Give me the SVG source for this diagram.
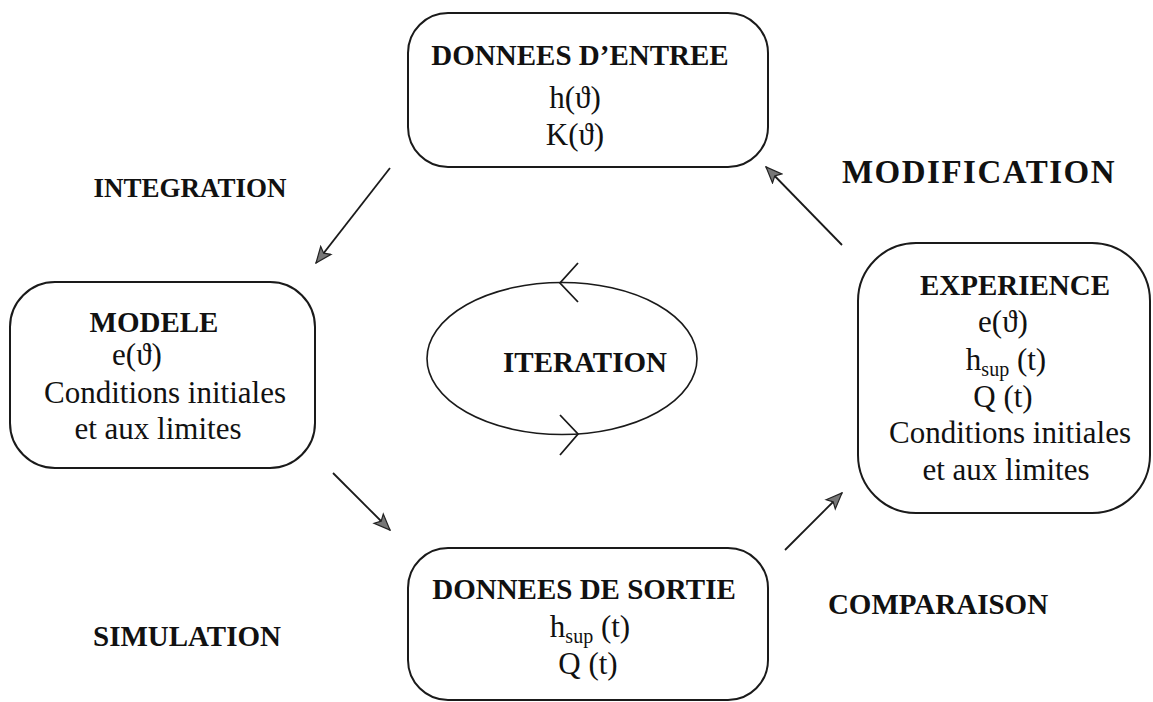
<svg xmlns="http://www.w3.org/2000/svg" width="1153" height="702" viewBox="0 0 1153 702" font-family="'Liberation Serif', 'DejaVu Serif', serif">
<style>
text{font-family:'Liberation Serif','DejaVu Serif',serif;fill:#111;}
.t{font-weight:bold;font-size:29px;text-anchor:middle;}
.b{font-size:31px;text-anchor:middle;}
.sub{font-size:20px;}
.box{fill:none;stroke:#1a1a1a;stroke-width:2;}
.ln{stroke:#1a1a1a;stroke-width:1.8;fill:none;}
.ah{fill:#777;stroke:#222;stroke-width:1.2;}
</style>
<defs>
<marker id="arr" viewBox="0 0 18 16" refX="17" refY="8" markerWidth="18" markerHeight="16" markerUnits="userSpaceOnUse" orient="auto">
<path class="ah" d="M1,1.5 L17,8 L1,14.5 L4.5,8 Z"/>
</marker>
</defs>

<g id="connectors">
<line class="ln" x1="390" y1="168" x2="316" y2="263" marker-end="url(#arr)"/>
<line class="ln" x1="333" y1="473" x2="390" y2="530" marker-end="url(#arr)"/>
<line class="ln" x1="842" y1="245" x2="766" y2="167" marker-end="url(#arr)"/>
<line class="ln" x1="785" y1="550" x2="842" y2="493" marker-end="url(#arr)"/>
</g>

<g id="labels">
<text class="t" x="190" y="197" style="font-size:27px">INTEGRATION</text>
<text class="t" x="979" y="183" style="font-size:33px;letter-spacing:1.5px">MODIFICATION</text>
<text class="t" x="187" y="646">SIMULATION</text>
<text class="t" x="938" y="614">COMPARAISON</text>
</g>

<g id="iteration">
<ellipse cx="562" cy="358.5" rx="135" ry="76" fill="none" stroke="#1a1a1a" stroke-width="1.6"/>
<polyline class="ln" points="578,263 560,283 578,302"/>
<polyline class="ln" points="560,415 578,434 560,455"/>
<text class="t" x="585" y="372">ITERATION</text>
</g>

<g id="donnees-entree">
<rect class="box" x="408" y="13" width="360" height="154" rx="40" ry="40"/>
<text class="t" x="580" y="65">DONNEES D’ENTREE</text>
<text class="b" x="575" y="108">h(ϑ)</text>
<text class="b" x="575" y="145">K(ϑ)</text>
</g>

<g id="modele">
<rect class="box" x="10" y="282" width="305" height="186" rx="45" ry="45"/>
<text class="t" x="154" y="332">MODELE</text>
<text class="b" x="137" y="365">e(ϑ)</text>
<text class="b" x="165" y="403">Conditions initiales</text>
<text class="b" x="158" y="439">et aux limites</text>
</g>

<g id="experience">
<rect class="box" x="858" y="243" width="292" height="270" rx="58" ry="58"/>
<text class="t" x="1015" y="295">EXPERIENCE</text>
<text class="b" x="1003" y="332">e(ϑ)</text>
<text class="b" x="1006" y="370">h<tspan class="sub" dy="6">sup</tspan><tspan dy="-6"> (t)</tspan></text>
<text class="b" x="1003" y="407">Q (t)</text>
<text class="b" x="1010" y="443">Conditions initiales</text>
<text class="b" x="1006" y="480">et aux limites</text>
</g>

<g id="donnees-sortie">
<rect class="box" x="408" y="548" width="360" height="152" rx="40" ry="40"/>
<text class="t" x="584" y="599">DONNEES DE SORTIE</text>
<text class="b" x="590" y="637">h<tspan class="sub" dy="6">sup</tspan><tspan dy="-6"> (t)</tspan></text>
<text class="b" x="588" y="674">Q (t)</text>
</g>
</svg>
